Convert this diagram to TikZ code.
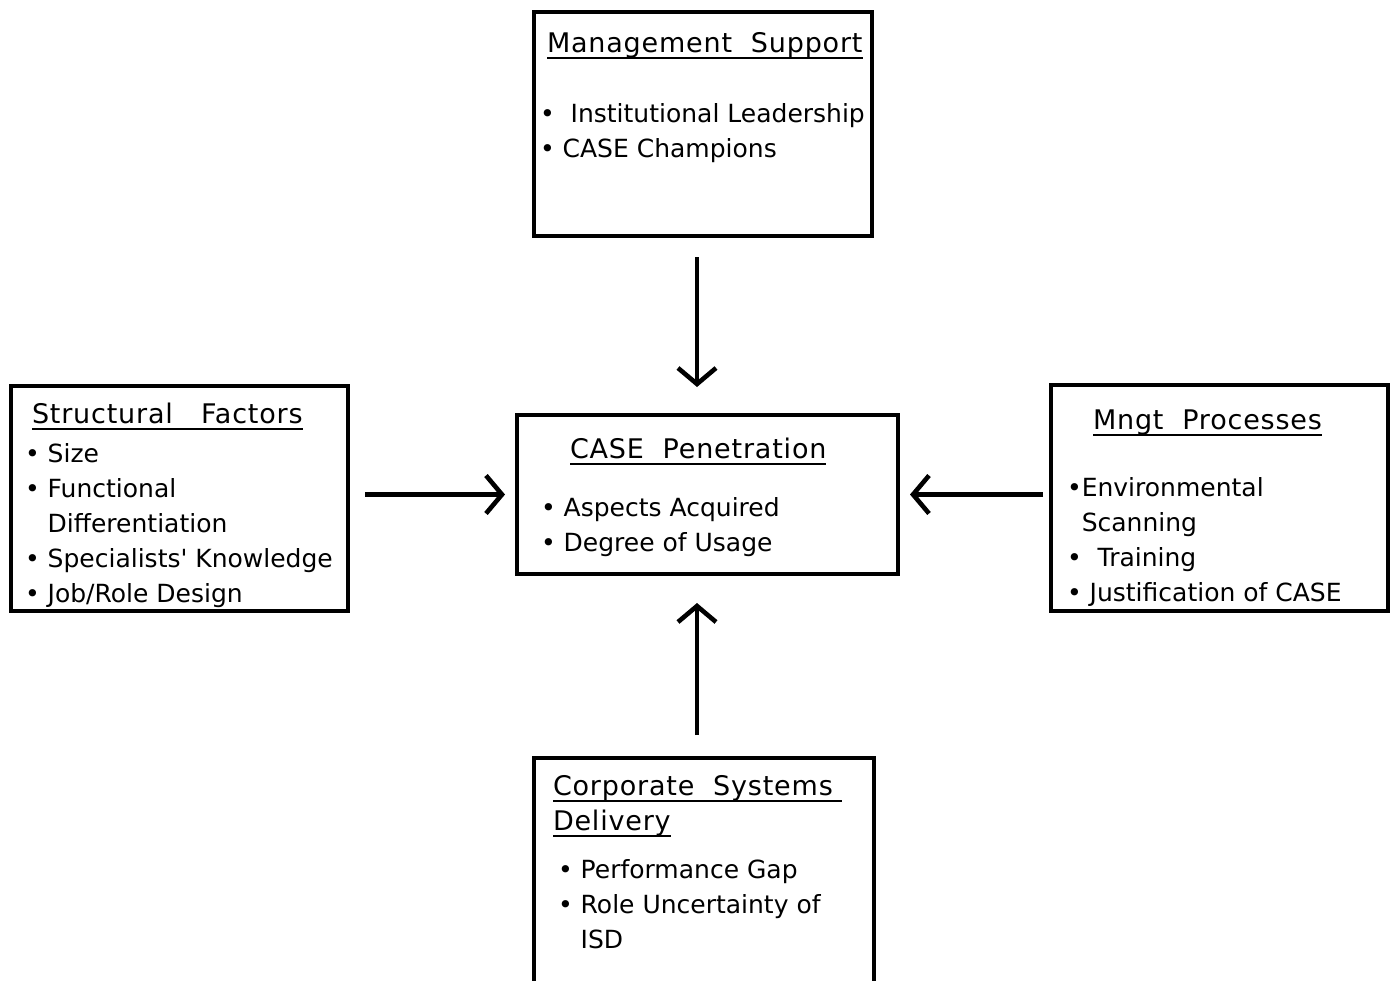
\documentclass[tikz,border=0pt]{standalone}
\usepackage{fontspec}
\setmainfont{DejaVu Sans}[Ligatures=TeXOff]
\newfontfamily\hdrfont[LetterSpace=3]{DejaVu Sans}
\usetikzlibrary{arrows.meta}
\newcommand{\hdr}[1]{{\hdrfont\fontsize{13.5}{17.5}\selectfont\setbox0=\hbox{#1}\rlap{\rule[-3.4pt]{\wd0}{1.1pt}}\box0}}
\tikzset{
    panel-box/.style = {draw, line width=2pt, rectangle, inner sep=0pt, outer sep=0pt, anchor=north west,
        font=\fontsize{12.5}{17.5}\selectfont},
    flow-arrow/.style = {line width=2.3pt, -{Straight Barb[length=8pt,width=19pt]}},
}

\begin{document}
\begin{tikzpicture}[x=0.5pt,y=-0.5pt]
\clip (0,0) rectangle (1397,980);
\fill[white] (0,0) rectangle (1397,980);
\node [panel-box] (mgmt) at (534,12) {\begin{minipage}[c][112pt][t]{169pt}
    \rule{0pt}{20pt}\hspace*{6.5pt}\hdr{Management\ \ Support}\\[17.5pt]
    \hspace*{3pt}•\ \ Institutional Leadership\\
    \hspace*{3pt}• CASE Champions
\end{minipage}};
\node [panel-box] (sf) at (11,386) {\begin{minipage}[c][112.5pt][t]{168.5pt}
    \rule{0pt}{18.5pt}\hspace*{10.5pt}\hdr{Structural\ \ \ Factors}\\[2pt]
    \hspace*{7pt}• Size\\
    \hspace*{7pt}• Functional\\
    \hspace*{7pt}\phantom{• }Differentiation\\
    \hspace*{7pt}• Specialists' Knowledge\\
    \hspace*{7pt}• Job/Role Design
\end{minipage}};
\node [panel-box] (case) at (517,415) {\begin{minipage}[c][79.5pt][t]{190.5pt}
    \rule{0pt}{21.5pt}\hspace*{26.5pt}\hdr{CASE\ \ Penetration}\\[11.5pt]
    \hspace*{12pt}• Aspects Acquired\\
    \hspace*{12pt}• Degree of Usage
\end{minipage}};
\node [panel-box] (mp) at (1051,385) {\begin{minipage}[c][113pt][t]{168.5pt}
    \rule{0pt}{22pt}\hspace*{21pt}\hdr{Mngt\ \ Processes}\\[16pt]
    \hspace*{8pt}•Environmental\\
    \hspace*{8pt}\phantom{•}Scanning\\
    \hspace*{8pt}•\ \ Training\\
    \hspace*{8pt}• Justification of CASE
\end{minipage}};
\node [panel-box] (csd) at (534,758) {\begin{minipage}[c][150pt][t]{170pt}
    \rule{0pt}{18.5pt}\hspace*{9.5pt}\hdr{Corporate\ \ Systems\ }\\
    \hspace*{9.5pt}\hdr{Delivery}\\[6.5pt]
    \hspace*{12pt}• Performance Gap\\
    \hspace*{12pt}• Role Uncertainty of\\
    \hspace*{12pt}\phantom{• }ISD
\end{minipage}};
% arrows into the centre box
\draw [flow-arrow, shorten <=10.5pt, shorten >=14pt] ([xshift=-3pt]mgmt.south) -- ([xshift=-3pt]mgmt.south |- case.north);
\draw [flow-arrow, shorten <=8.5pt, shorten >=6pt] (sf.east |- case.west) -- (case.west);
\draw [flow-arrow, shorten <=4pt, shorten >=6pt] (mp.west |- case.east) -- (case.east);
\draw [flow-arrow, shorten <=11.5pt, shorten >=14.5pt] ([xshift=-3.5pt]csd.north) -- ([xshift=-3.5pt]csd.north |- case.south);
\end{tikzpicture}
\end{document}
